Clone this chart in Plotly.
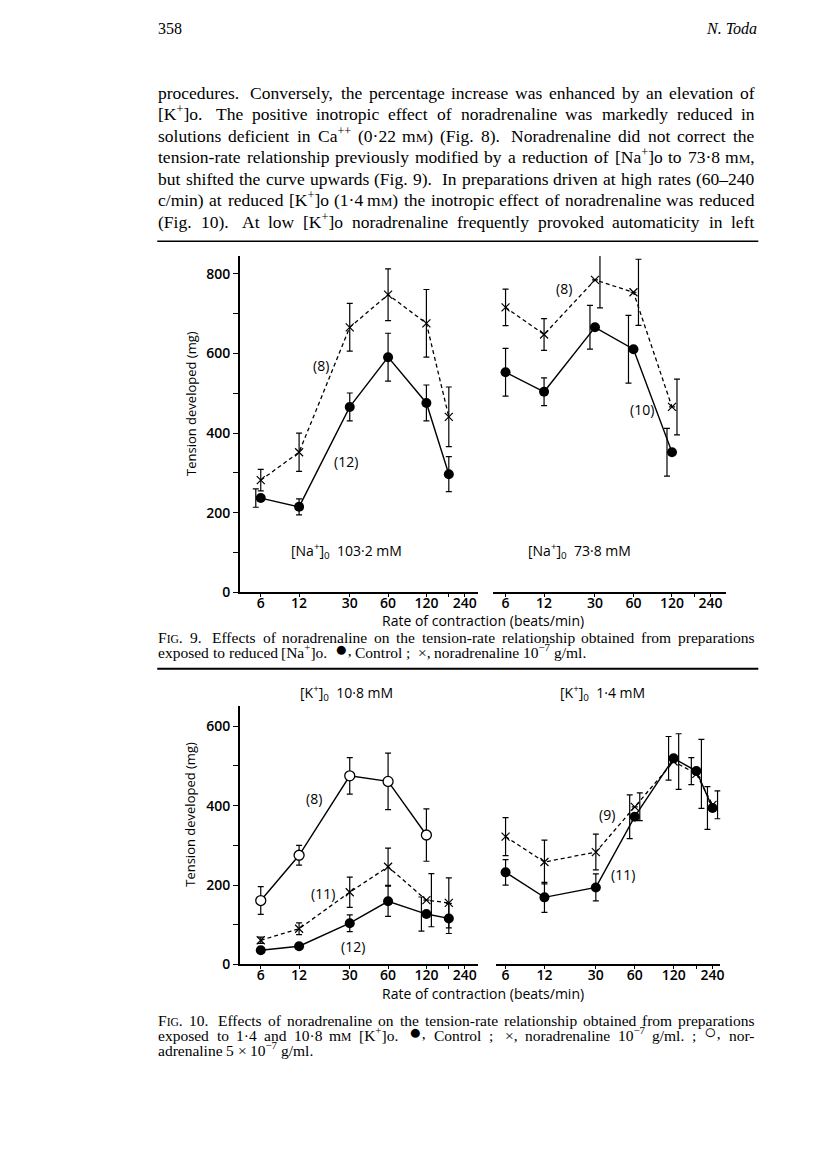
import re
import plotly.graph_objects as go

W, H = 816, 1156

# ---------------- data ----------------
rate_ticks = [6, 12, 30, 60, 120, 180, 240]
rate_tick_text = ["6", "12", "30", "60", "120", "", "240"]

# Fig. 9, [Na+]o 103.2 mM
rates_na103 = [6, 12, 30, 60, 120, 180]
na103_control = [237, 215, 466, 591, 476, 297]
na103_control_err = [23, 20, 35, 60, 45, 44]
na103_nor = [282, 352, 666, 748, 676, 441]
na103_nor_err = [27, 48, 60, 65, 85, 75]

# Fig. 9, [Na+]o 73.8 mM
rates_na73 = [6, 12, 30, 60, 120]
na73_control = [553, 504, 666, 611, 352]
na73_control_err = [60, 35, 55, 85, 60]
na73_nor = [716, 648, 785, 754, 466]
na73_nor_err = [46, 40, 70, 83, 70]

# Fig. 10, [K+]o 10.8 mM
rates_k108 = [6, 12, 30, 60, 120, 180]
k108_control = [36, 46, 104, 159, 127, 116]
k108_control_err = [5, 5, 21, 38, 43, 38]
k108_nor1 = [61, 90, 182, 246, 162, 155]
k108_nor1_err = [8, 15, 38, 47, 67, 63]
rates_k108_nor5 = [6, 12, 30, 60, 120]
k108_nor5 = [161, 275, 475, 461, 326]
k108_nor5_err = [35, 25, 46, 71, 66]

# Fig. 10, [K+]o 1.4 mM
rates_k14 = [6, 12, 30, 60, 120, 180, 240]
k14_control = [232, 169, 194, 372, 519, 487, 394]
k14_control_err = [32, 38, 34, 55, 55, 34, 54]
k14_nor = [322, 258, 283, 397, 511, 480, 402]
k14_nor_err = [48, 55, 45, 35, 70, 87, 35]

# which error bars are drawn as side brackets (style: -1 left, +1 right, 0 centred)
side_na103_control = [-1, 0, 0, 0, 0, 0]
side_na73_control = [0, 0, -1, -1, -1]
side_na73_nor = [0, 0, 1, 1, 1]
side_k108_control = [0, 0, 0, 0, -1, 0]
side_k108_nor1 = [0, 0, 0, 0, 1, 0]
side_k14_control = [0, 0, 0, -1, -1, -1, -1]
side_k14_nor = [0, 0, 0, 1, 1, 1, 1]

# <sc>..</sc> marks small capitals, <big>..</big> enlarged symbols
body_lines = [
    "procedures.  Conversely, the percentage increase was enhanced by an elevation of",
    "[K<sup>+</sup>]o.  The positive inotropic effect of noradrenaline was markedly reduced in",
    "solutions deficient in Ca<sup>++</sup> (0·22 m<sc>M</sc>) (Fig. 8).  Noradrenaline did not correct the",
    "tension-rate relationship previously modified by a reduction of [Na<sup>+</sup>]o to 73·8 m<sc>M</sc>,",
    "but shifted the curve upwards (Fig. 9).  In preparations driven at high rates (60–240",
    "c/min) at reduced [K<sup>+</sup>]o (1·4 m<sc>M</sc>) the inotropic effect of noradrenaline was reduced",
    "(Fig. 10).  At low [K<sup>+</sup>]o noradrenaline frequently provoked automaticity in left",
]
cap9_lines = [
    "F<sc>IG</sc>. 9.  Effects of noradrenaline on the tension-rate relationship obtained from preparations",
    "exposed to reduced [Na<sup>+</sup>]o.  <big>●</big>, Control ;  ×, noradrenaline 10<sup>−7</sup> g/ml.",
]
cap10_lines = [
    "F<sc>IG</sc>. 10.  Effects of noradrenaline on the tension-rate relationship obtained from preparations",
    "exposed to 1·4 and 10·8 m<sc>M</sc> [K<sup>+</sup>]o.  <big>●</big>, Control ;  ×, noradrenaline 10<sup>−7</sup> g/ml. ; <big>○</big>, nor-",
    "adrenaline 5 × 10<sup>−7</sup> g/ml.",
]

# ---------------- helpers ----------------
def X(px):
    return px / W

def Y(py):
    return 1 - py / H

SERIF = "Liberation Serif"
SANS = "Open Sans"
SC_SCALE = 0.75
BIG_SCALE = 1.35

# Times-compatible advance widths (per 1000 em) for justification
TW = {' ': 250, 'a': 444, 'b': 500, 'c': 444, 'd': 500, 'e': 444, 'f': 333, 'g': 500, 'h': 500,
      'i': 278, 'j': 278, 'k': 500, 'l': 278, 'm': 778, 'n': 500, 'o': 500, 'p': 500, 'q': 500,
      'r': 333, 's': 389, 't': 278, 'u': 500, 'v': 500, 'w': 722, 'x': 500, 'y': 500, 'z': 444,
      'A': 722, 'B': 667, 'C': 667, 'D': 722, 'E': 611, 'F': 556, 'G': 722, 'H': 722, 'I': 333,
      'J': 389, 'K': 722, 'L': 611, 'M': 889, 'N': 722, 'O': 722, 'P': 556, 'Q': 722, 'R': 667,
      'S': 556, 'T': 611, 'U': 722, 'V': 722, 'W': 944, 'X': 722, 'Y': 722, 'Z': 611,
      '.': 250, ',': 250, '(': 333, ')': 333, '[': 333, ']': 333, '-': 333, '–': 500, '/': 278,
      ':': 278, ';': 278, '+': 564, '·': 250, '−': 564, '×': 564, '●': 600, '○': 600}

PAT = re.compile(r"<sup>(.*?)</sup>|<sc>(.*?)</sc>|<big>(.*?)</big>")

def measure(tok, size):
    total = 0.0
    pos = 0
    for m in PAT.finditer(tok):
        for ch in tok[pos:m.start()]:
            total += TW.get(ch, 500) * size / 1000
        if m.group(1) is not None:
            seg, sc = m.group(1), 0.7
        elif m.group(2) is not None:
            seg, sc = m.group(2), SC_SCALE
        else:
            seg, sc = m.group(3), BIG_SCALE
        for ch in seg:
            total += TW.get(ch, 500) * size * sc / 1000
        pos = m.end()
    for ch in tok[pos:]:
        total += TW.get(ch, 500) * size / 1000
    return total

def to_html(tok, size):
    sc = round(size * SC_SCALE, 1)
    bg = round(size * BIG_SCALE, 1)
    tok = re.sub(r"<sc>(.*?)</sc>", lambda m: "<span style=\"font-size:%spx\">%s</span>" % (sc, m.group(1)), tok)
    tok = re.sub(r"<big>(.*?)</big>", lambda m: "<span style=\"font-size:%spx\">%s</span>" % (bg, m.group(1)), tok)
    return tok

fig = go.Figure()

def err(arr):
    return dict(type="data", array=arr, color="black", thickness=1.2, width=3)

SHIFT = 10 ** (5 / 128)

def add_brackets(x, y, e, side, xa, ya):
    for s in (-1, 1):
        bx = [xi * (SHIFT ** s) for xi, si in zip(x, side) if si == s]
        by = [yi for yi, si in zip(y, side) if si == s]
        be = [ei for ei, si in zip(e, side) if si == s]
        if bx:
            fig.add_trace(go.Scatter(x=bx, y=by, xaxis=xa, yaxis=ya, mode="markers",
                                     marker=dict(size=1, opacity=0), error_y=err(be),
                                     showlegend=False, hoverinfo="skip"))

def centred(e, side):
    return [ei if si == 0 else 0 for ei, si in zip(e, side)]

def add_nor(x, y, e, xa, ya, side=None):
    side = side or [0] * len(x)
    add_brackets(x, y, e, side, xa, ya)
    fig.add_trace(go.Scatter(
        x=x, y=y, xaxis=xa, yaxis=ya, mode="lines+markers",
        line=dict(color="black", width=1.3, dash="4px,3px"),
        marker=dict(symbol="x-thin", size=8, line=dict(color="black", width=1.2)),
        error_y=err(centred(e, side)), showlegend=False))

def add_ctrl(x, y, e, xa, ya, side=None):
    side = side or [0] * len(x)
    add_brackets(x, y, e, side, xa, ya)
    fig.add_trace(go.Scatter(
        x=x, y=y, xaxis=xa, yaxis=ya, mode="lines+markers",
        line=dict(color="black", width=1.4),
        marker=dict(symbol="circle", size=10, color="black"),
        error_y=err(centred(e, side)), showlegend=False))

def add_open(x, y, e, xa, ya):
    fig.add_trace(go.Scatter(
        x=x, y=y, xaxis=xa, yaxis=ya, mode="lines+markers",
        line=dict(color="black", width=1.4),
        marker=dict(symbol="circle", size=10, color="white", line=dict(color="black", width=1.3)),
        error_y=err(e), showlegend=False))

# Fig 9 left
add_nor(rates_na103, na103_nor, na103_nor_err, "x", "y")
add_ctrl(rates_na103, na103_control, na103_control_err, "x", "y", side_na103_control)
# Fig 9 right
add_nor(rates_na73, na73_nor, na73_nor_err, "x2", "y2", side_na73_nor)
add_ctrl(rates_na73, na73_control, na73_control_err, "x2", "y2", side_na73_control)
# Fig 10 left
add_open(rates_k108_nor5, k108_nor5, k108_nor5_err, "x3", "y3")
add_nor(rates_k108, k108_nor1, k108_nor1_err, "x3", "y3", side_k108_nor1)
add_ctrl(rates_k108, k108_control, k108_control_err, "x3", "y3", side_k108_control)
# Fig 10 right
add_nor(rates_k14, k14_nor, k14_nor_err, "x4", "y4", side_k14_nor)
add_ctrl(rates_k14, k14_control, k14_control_err, "x4", "y4", side_k14_control)

tickfont = dict(family=SANS, size=14, color="black", weight=600)

def xax(dom, rng, anchor):
    return dict(domain=[X(dom[0]), X(dom[1])], type="log", range=rng, anchor=anchor,
                showline=True, linecolor="black", linewidth=1.5, ticks="outside",
                ticklen=3, tickwidth=1.2, tickcolor="black", tickvals=rate_ticks,
                ticktext=rate_tick_text, tickfont=tickfont, showgrid=False,
                zeroline=False, fixedrange=True, ticklabelstandoff=-6)

def yax(dom, rng, anchor, vals, texts, show=True):
    d = dict(domain=[Y(dom[0]), Y(dom[1])], range=rng, anchor=anchor, showgrid=False,
             zeroline=False, fixedrange=True)
    if show:
        d.update(showline=True, linecolor="black", linewidth=1.5, ticks="outside",
                 ticklen=5, tickwidth=1.2, tickcolor="black", tickvals=vals,
                 ticktext=texts, tickfont=tickfont)
    else:
        d.update(visible=False)
    return d

y9_vals = [0, 100, 200, 300, 400, 500, 600, 700, 800]
y9_text = ["0", "", "200", "", "400", "", "600", "", "800"]
y10_vals = [0, 100, 200, 300, 400, 500, 600]
y10_text = ["0", "", "200", "", "400", "", "600"]

fig.update_layout(
    width=W, height=H, margin=dict(l=0, r=0, t=0, b=0),
    paper_bgcolor="white", plot_bgcolor="white", showlegend=False,
    xaxis=xax((233, 472), [0.614, 2.482], "y"),
    yaxis=yax((589, 250), [0, 845], "x", y9_vals, y9_text),
    xaxis2=xax((487, 722), [0.677, 2.505], "y2"),
    yaxis2=yax((589, 250), [0, 845], "x2", None, None, show=False),
    xaxis3=xax((233, 472), [0.614, 2.482], "y3"),
    yaxis3=yax((964, 703), [0, 652], "x3", y10_vals, y10_text),
    xaxis4=xax((490, 716), [0.701, 2.442], "y4"),
    yaxis4=yax((964, 703), [0, 652], "x4", None, None, show=False),
)

ann = []

def text(px, py, s, size=13, family=SANS, xanchor="center", angle=0, yanchor="middle"):
    ann.append(dict(x=X(px), y=Y(py), xref="paper", yref="paper", text=s, showarrow=False,
                    xanchor=xanchor, yanchor=yanchor, textangle=angle, borderpad=0,
                    font=dict(family=family, size=size, color="black")))

def justified(line, py, left, right, size, justify=True):
    parts = line.split(" ")
    words, gaps = [], []
    for p in parts:
        if p == "":
            if gaps:
                gaps[-1] += 1
        else:
            words.append(p)
            gaps.append(1)
    gaps[-1] = 0
    widths = [measure(w, size) for w in words]
    space = TW[' '] * size / 1000
    natural = sum(widths) + sum(g * space for g in gaps)
    ngaps = len(words) - 1
    extra = (right - left - natural) / ngaps if (justify and ngaps > 0) else 0
    x = left
    ybot = py + 0.65 * size  # bottom-anchored so superscripts keep a common baseline
    for w, wd, g in zip(words, widths, gaps):
        text(x, ybot, to_html(w, size), size=size, family=SERIF, xanchor="left", yanchor="bottom")
        x += wd + g * space + extra

LEFT, RIGHT = 150, 754
RIGHT_J = RIGHT - 5
CAP = 15.5
# header
text(LEFT, 21, "358", size=16, family=SERIF, xanchor="left")
text(RIGHT, 21, "<i>N. Toda</i>", size=16, family=SERIF, xanchor="right")
# body
for i, line in enumerate(body_lines):
    justified(line, 85 + 21.7 * i, LEFT, RIGHT_J, 17.5)

# Fig 9 texts
text(184, 399, "Tension developed (mg)", size=13, angle=-90)
text(315, 360, "(8)", size=14)
text(340, 457, "(12)", size=14)
text(340, 547, "[Na<sup>+</sup>]<sub>0</sub>  103·2 mM", size=14)
text(559, 283, "(8)", size=14)
text(637, 405, "(10)", size=14)
text(574, 547, "[Na<sup>+</sup>]<sub>0</sub>  73·8 mM", size=14)
text(477, 617, "Rate of contraction (beats/min)", size=14)
justified(cap9_lines[0], 634, LEFT, RIGHT_J, CAP)
justified(cap9_lines[1], 649, LEFT, RIGHT_J, CAP, justify=False)

# Fig 10 texts
text(340, 690, "[K<sup>+</sup>]<sub>0</sub>  10·8 mM", size=14)
text(597, 690, "[K<sup>+</sup>]<sub>0</sub>  1·4 mM", size=14)
text(183, 813, "Tension developed (mg)", size=13, angle=-90)
text(308, 797, "(8)", size=14)
text(317, 892, "(11)", size=14)
text(347, 946, "(12)", size=14)
text(602, 813, "(9)", size=14)
text(618, 873, "(11)", size=14)
text(477, 993, "Rate of contraction (beats/min)", size=14)
justified(cap10_lines[0], 1020, LEFT, RIGHT_J, CAP)
justified(cap10_lines[1], 1035, LEFT, RIGHT_J, CAP)
justified(cap10_lines[2], 1050, LEFT, RIGHT_J, CAP, justify=False)

fig.update_layout(annotations=ann)

shapes = [
    dict(type="line", xref="paper", yref="paper", x0=X(LEFT), x1=X(RIGHT), y0=Y(235), y1=Y(235),
         line=dict(color="black", width=1.5)),
    dict(type="line", xref="paper", yref="paper", x0=X(LEFT), x1=X(RIGHT), y0=Y(666), y1=Y(666),
         line=dict(color="black", width=2)),
]
fig.update_layout(shapes=shapes)

fig.write_html("out.html")
